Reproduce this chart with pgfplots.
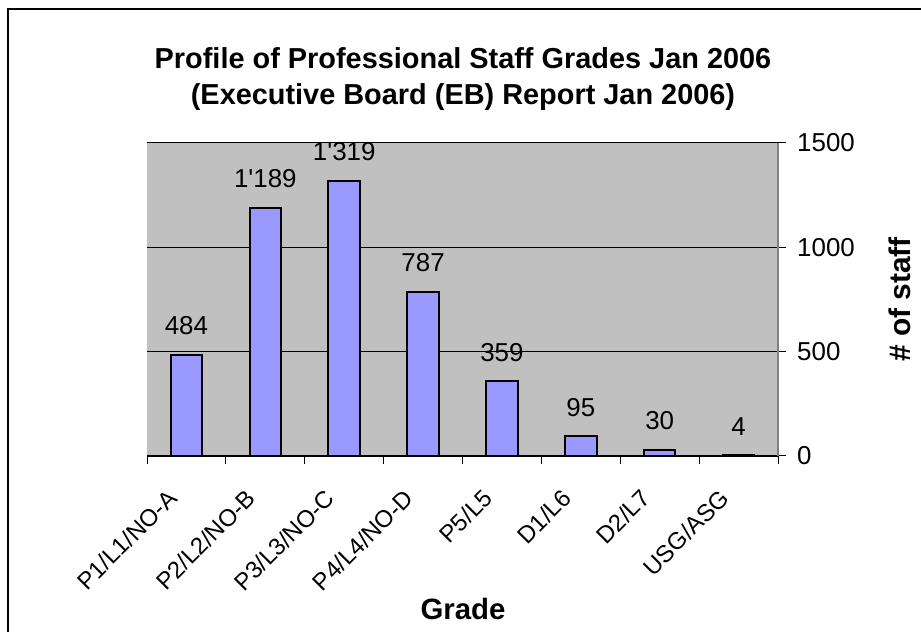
\documentclass[border=0pt]{standalone}
\usepackage{fontspec}
\setmainfont{Liberation Sans}
\usepackage{pgfplots}
\pgfplotsset{compat=1.18}
\definecolor{barblue}{HTML}{9999FF}
\definecolor{plotgray}{HTML}{C0C0C0}
\definecolor{axgray}{HTML}{808080}
\begin{document}
\begin{tikzpicture}[x=1bp,y=1bp]
\path[use as bounding box] (0,0) rectangle (921,632);
\draw[line width=2bp, black] (8,0) -- (8,623) -- (921,623);
\begin{axis}[
  at={(147bp,176bp)}, anchor=south west,
  scale only axis, width=631bp, height=313bp,
  xmin=-0.5, xmax=7.5, ymin=0, ymax=1500,
  axis x line*=bottom, axis y line*=right,
  x axis line style={black, line width=1.2bp},
  y axis line style={axgray, line width=1.5bp},
  axis background/.style={fill=plotgray},
  ymajorgrids, grid style={black, line width=1bp},
  ytick={0,500,1000,1500},
  xtick={0,...,7},
  minor xtick={-0.5,0.5,...,7.5},
  xticklabels={P1/L1/NO-A,P2/L2/NO-B,P3/L3/NO-C,P4/L4/NO-D,P5/L5,D1/L6,D2/L7,USG/ASG},
  tick align=outside,
  major tick length=8bp, minor tick length=8bp,
  major x tick style={draw=none},
  minor x tick style={black, line width=1bp},
  major y tick style={black, line width=1bp},
  /pgf/number format/assume math mode=true,
  /pgf/number format/1000 sep={},
  yticklabel style={font=\fontsize{26}{30}\selectfont, anchor=west, inner sep=0pt, xshift=11bp},
  xticklabel style={font=\fontsize{24}{28}\selectfont, inner sep=0pt, xshift=-14bp, yshift=-30bp, rotate=45, anchor=east},
  ybar, bar width=0.4,
  clip=false,
  nodes near coords,
  point meta=explicit symbolic,
  every node near coord/.append style={font=\fontsize{26}{30}\selectfont, inner sep=0pt, anchor=base, yshift=20bp},
  title={Profile of Professional Staff Grades Jan 2006\\(Executive Board (EB) Report Jan 2006)},
  title style={at={(axis description cs:0.5008,1.285)}, anchor=north, inner sep=0pt, align=center, font=\bfseries\fontsize{29}{36}\selectfont},
  xlabel={Grade},
  xlabel style={at={(axis description cs:0.5008,-0.489)}, anchor=center, inner sep=0pt, font=\bfseries\fontsize{29.5}{34}\selectfont},
  ylabel={\# of staff},
  ylabel style={at={(axis description cs:1.193,0.5)}, anchor=center, inner sep=0pt, font=\bfseries\fontsize{30}{34}\selectfont},
]
\addplot[fill=barblue, draw=black, line width=2bp] coordinates {
  (0,484) [484]
  (1,1189) [1\textquotesingle189]
  (2,1319) [1\textquotesingle319]
  (3,787) [787]
  (4,359) [359]
  (5,95) [95]
  (6,30) [30]
  (7,4) [4]
};
\end{axis}
\end{tikzpicture}
\end{document}
